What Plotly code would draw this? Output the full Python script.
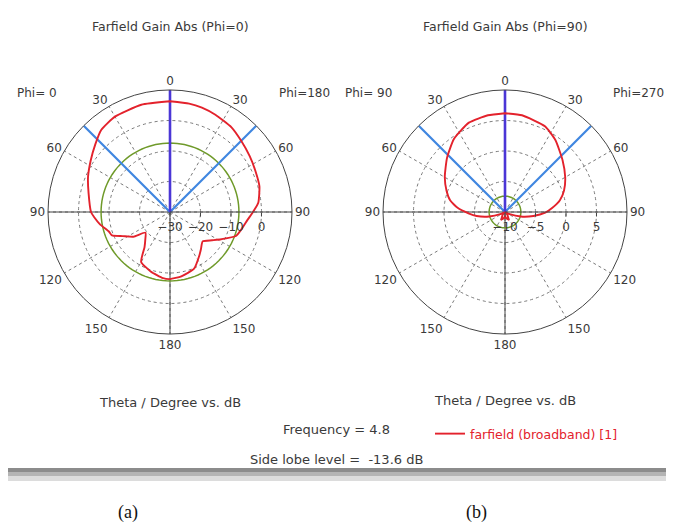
import plotly.graph_objects as go

# ---------------- data ----------------
# (a) Phi=0 cut (left half) and Phi=180 cut (right half); theta in deg, gain in dB
theta_a_phi0 = [0, 15, 30, 40, 48, 57, 67, 77, 90, 94, 100, 108, 112, 117, 124, 130, 138, 144, 150, 162, 174, 180]
gain_a_phi0 = [6.3, 6.4, 6.1, 5.1, 3.0, 1.0, -0.8, -2.6, -4.1, -5.1, -6.7, -9.0, -9.5, -12.6, -15.5, -19.5, -17.9, -15.8, -11.1, -9.5, -8.2, -8.0]
theta_a_phi180 = [0, 10, 17, 25, 36, 45, 55, 64, 74, 84, 90, 96, 103, 110, 118, 124, 132, 140, 146, 157, 170, 180]
gain_a_phi180 = [6.3, 6.1, 5.8, 5.2, 4.3, 3.0, 1.9, 1.1, 0.5, -0.9, -2.8, -4.5, -5.8, -7.0, -11.0, -13.4, -15.6, -14.2, -12.8, -9.8, -8.6, -8.0]

# (b) Phi=90 cut (left half) and Phi=270 cut (right half)
theta_b_phi90 = [0, 10, 22, 35, 47, 60, 70, 78, 85, 92, 98, 106, 115, 125, 140, 155, 170, 180]
gain_b_phi90 = [6.2, 6.1, 5.8, 4.6, 3.0, 1.4, 0.2, -0.8, -2.2, -4.0, -5.3, -7.3, -9.3, -9.9, -9.4, -8.6, -9.0, -9.3]
theta_b_phi270 = [0, 10, 25, 35, 48, 60, 70, 78, 85, 91, 98, 106, 115, 125, 140, 155, 170, 180]
gain_b_phi270 = [6.2, 6.1, 5.5, 4.4, 2.7, 1.4, 0.3, -0.8, -2.2, -3.4, -5.3, -7.3, -9.3, -9.9, -9.4, -8.6, -9.0, -9.3]

main_lobe_gain = 6.2          # dB
side_lobe_level = -13.6       # dB (relative)
main_lobe_dir = 0             # deg
beam_edges = [-45, 45]        # deg (3 dB beam lines)
frequency = 4.8

range_a = [-30, 10]
ticks_a = [-30, -20, -10, 0]
range_b = [-10, 10]
ticks_b = [-10, -5, 0, 5]

angle_ticks = list(range(0, 360, 30))
angle_text = ["0", "30", "60", "90", "120", "150", "180", "150", "120", "90", "60", "30"]

# ---------------- styling ----------------
RED = "#e3222c"
GREEN = "#6f9a2a"
DBLUE = "#4b36d6"
LBLUE = "#3f86e0"
AX = "#444444"
TXT = "#3a3a3a"
FONT = "DejaVu Sans"

# page body has an 8px margin: figure is placed at (8, 8) in the window
OX, OY = 8, 8
W, H = 674 - OX, 528 - OY
R = 122


def fx(x):
    return (x - OX) / W


def fy(y):
    return 1 - (y - OY) / H


def full_cut(theta_left, gain_left, theta_right, gain_right):
    th = [360 - t if t != 0 else 360 for t in reversed(theta_left)] + list(theta_right)
    g = list(reversed(gain_left)) + list(gain_right)
    return th, g


def dom(cx, cy):
    return dict(x=[fx(cx - R), fx(cx + R)], y=[fy(cy + R), fy(cy - R)])


fig = go.Figure()


def add_panel(polar, rng, th, g, show_leg):
    lo, hi = rng
    for ang in (270, 180):
        fig.add_trace(go.Scatterpolar(r=[lo, hi], theta=[ang, ang], mode="lines",
                                      line=dict(color=AX, width=1), subplot=polar,
                                      showlegend=False, hoverinfo="skip"))
    sll_r = main_lobe_gain + side_lobe_level
    circ_t = list(range(0, 361, 3))
    fig.add_trace(go.Scatterpolar(r=[sll_r] * len(circ_t), theta=circ_t, mode="lines",
                                  line=dict(color=GREEN, width=1.5), subplot=polar,
                                  showlegend=False, hoverinfo="skip"))
    for b in beam_edges:
        fig.add_trace(go.Scatterpolar(r=[lo, hi], theta=[b % 360, b % 360], mode="lines",
                                      line=dict(color=LBLUE, width=2.2), subplot=polar,
                                      showlegend=False, hoverinfo="skip"))
    fig.add_trace(go.Scatterpolar(r=[lo, hi], theta=[main_lobe_dir, main_lobe_dir], mode="lines",
                                  line=dict(color=DBLUE, width=2.6), subplot=polar,
                                  showlegend=False, hoverinfo="skip"))
    fig.add_trace(go.Scatterpolar(r=g, theta=th, mode="lines",
                                  line=dict(color=RED, width=1.9, shape="spline", smoothing=0.5),
                                  subplot=polar, name="farfield (broadband) [1]",
                                  showlegend=show_leg, hoverinfo="skip"))


th_a, g_a = full_cut(theta_a_phi0, gain_a_phi0, theta_a_phi180, gain_a_phi180)
th_b, g_b = full_cut(theta_b_phi90, gain_b_phi90, theta_b_phi270, gain_b_phi270)
add_panel("polar", range_a, th_a, g_a, True)
add_panel("polar2", range_b, th_b, g_b, False)


def polar_layout(cx, cy, rng, ticks):
    return dict(
        domain=dom(cx, cy),
        bgcolor="white",
        angularaxis=dict(rotation=90, direction="clockwise", tickmode="array",
                         tickvals=angle_ticks, ticktext=angle_text, showline=True,
                         linecolor=AX, linewidth=1, gridcolor="#7a7a7a", griddash="dot",
                         gridwidth=1, ticks="", tickfont=dict(family=FONT, size=12, color=TXT)),
        radialaxis=dict(range=rng, tickmode="array", tickvals=ticks, angle=0, tickangle=0,
                        side="clockwise", showline=True, linecolor=AX, linewidth=1,
                        gridcolor="#7a7a7a", griddash="dot", gridwidth=1, ticks="outside",
                        ticklen=4, tickcolor=AX,
                        tickfont=dict(family=FONT, size=12, color=TXT)),
    )


def ann(text, x, y, size=12, color=TXT, family=FONT):
    return dict(text=text, x=fx(x), y=fy(y), xref="paper", yref="paper", showarrow=False,
                font=dict(family=family, size=size, color=color), xanchor="center", yanchor="middle")


annotations = [
    ann("Farfield Gain Abs (Phi=0)", 170, 27, 12.5),
    ann("Farfield Gain Abs (Phi=90)", 505, 27, 12.5),
    ann("Phi= 0", 37, 93),
    ann("Phi=180", 304, 93),
    ann("Phi= 90", 368, 93),
    ann("Phi=270", 638, 93),
    ann("Theta / Degree vs. dB", 170, 402, 13),
    ann("Theta / Degree vs. dB", 505, 400, 13),
    ann(f"Frequency = {frequency}", 336, 429, 13),
    ann(f"Side lobe level =  {side_lobe_level} dB", 336, 459, 13),
    ann("(a)", 128, 512, 18, "#111111", "Liberation Serif"),
    ann("(b)", 476, 512, 18, "#111111", "Liberation Serif"),
]

shapes = [
    dict(type="rect", xref="paper", yref="paper", x0=0, x1=1, y0=fy(472), y1=fy(468),
         fillcolor="#8c8c8c", line=dict(width=0), layer="below"),
    dict(type="rect", xref="paper", yref="paper", x0=0, x1=1, y0=fy(476), y1=fy(472),
         fillcolor="#b4b4b4", line=dict(width=0), layer="below"),
    dict(type="rect", xref="paper", yref="paper", x0=0, x1=1, y0=fy(481), y1=fy(476),
         fillcolor="#dcdcdc", line=dict(width=0), layer="below"),
]

fig.update_layout(
    width=W, height=H,
    margin=dict(l=0, r=0, t=0, b=0),
    paper_bgcolor="white",
    polar=polar_layout(170, 212, range_a, ticks_a),
    polar2=polar_layout(505, 212, range_b, ticks_b),
    annotations=annotations,
    shapes=shapes,
    showlegend=True,
    legend=dict(x=fx(430), y=fy(434), xanchor="left", yanchor="middle",
                bgcolor="rgba(0,0,0,0)", font=dict(family=FONT, size=12.5, color=RED),
                itemwidth=30),
)

fig.write_html("out.html")
